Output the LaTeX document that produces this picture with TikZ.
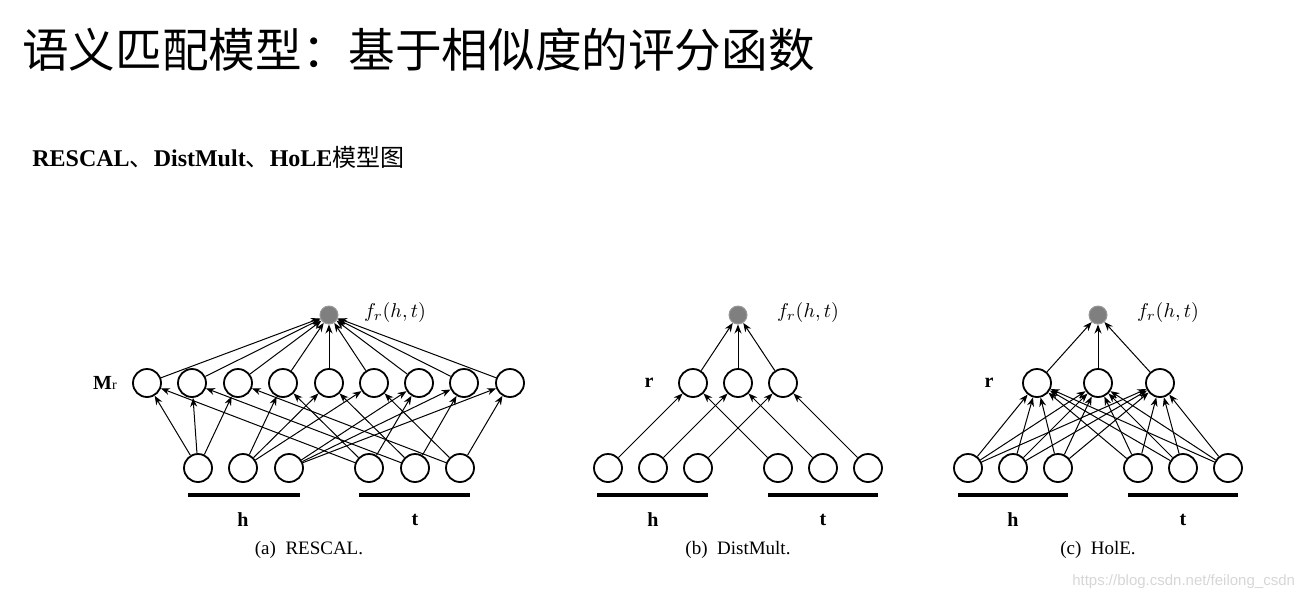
\documentclass[tikz,border=0pt]{standalone}
\usepackage{fontspec}
\setmainfont{Liberation Serif}
\setsansfont{Liberation Sans}
\newfontfamily\cjk{Noto Sans CJK SC}
\usetikzlibrary{arrows.meta}
\definecolor{scoregray}{HTML}{7F7F7F}
\definecolor{markgray}{HTML}{D6D6D6}

\begin{document}
\begin{tikzpicture}[x=0.5pt, y=-0.5pt,
  unit/.style={circle, draw, line width=0.9pt, minimum size=14pt, inner sep=0pt, fill=white},
  score/.style={circle, draw=gray!80, fill=scoregray, line width=0.5pt, minimum size=9pt, inner sep=0pt},
  arr/.style={-{Stealth[length=4.5pt, width=3.5pt]}, line width=0.5pt},
  bar/.style={line width=2pt},
  lbl/.style={font=\fontsize{10}{12}\selectfont\bfseries},
  subcap/.style={font=\fontsize{9.5}{11}\selectfont}]
  \useasboundingbox (0,0) rectangle (1311,601);

  % title and subtitle
  \node[anchor=west, inner sep=0pt, font=\cjk\fontsize{23.3}{28}\selectfont] (title) at (22,50)
    {语义匹配模型：基于相似度的评分函数};
  \node[anchor=west, inner sep=0pt, font=\fontsize{12}{14}\selectfont] (subtitle) at (32,157)
    {\textbf{RESCAL}{\cjk 、}\textbf{DistMult}{\cjk 、}\textbf{HoLE}{\cjk 模型图}};

  % (a) RESCAL
  \node[score] (atop) at (329,315) {};
  \node[anchor=west, font=\fontsize{10}{12}\selectfont] (afr) at (357,312) {$f_r(h,t)$};
  \foreach \x [count=\k] in {147,192,238,283,329,374,419,464,510}
    \node[unit] (am\k) at (\x,383) {};
  \foreach \x [count=\k] in {198,243,289}
    \node[unit] (ah\k) at (\x,468) {};
  \foreach \x [count=\k] in {369,415,460}
    \node[unit] (at\k) at (\x,468) {};
  \node[lbl] (amlbl) at (105,383) {M{\mdseries\fontsize{7}{8}\selectfont r}};
  \foreach \k in {1,...,9}
    \draw[arr] (am\k) -- (atop);
  \foreach \i in {1,2,3}
    \foreach \j in {1,2,3} {
      \pgfmathtruncatemacro\m{3*(\i-1)+\j}
      \pgfmathtruncatemacro\n{3*(\j-1)+\i}
      \draw[arr] (ah\i) -- (am\m);
      \draw[arr] (at\i) -- (am\n);
    }
  \draw[bar] (188,495) -- (300,495);
  \draw[bar] (359,495) -- (470,495);
  \node[lbl] (ahlbl) at (243,520) {h};
  \node[lbl] (atlbl) at (415,520) {t};
  \node[subcap] (acap) at (309,550) {(a)\enspace RESCAL.};

  % (b) DistMult
  \node[score] (btop) at (738,315) {};
  \node[anchor=west, font=\fontsize{10}{12}\selectfont] (bfr) at (770,312) {$f_r(h,t)$};
  \foreach \x [count=\k] in {693,738,783}
    \node[unit] (br\k) at (\x,383) {};
  \foreach \x [count=\k] in {608,653,698}
    \node[unit] (bh\k) at (\x,468) {};
  \foreach \x [count=\k] in {778,823,868}
    \node[unit] (bt\k) at (\x,468) {};
  \node[lbl] (brlbl) at (649,383) {r};
  \foreach \k in {1,2,3} {
    \draw[arr] (br\k) -- (btop);
    \draw[arr] (bh\k) -- (br\k);
    \draw[arr] (bt\k) -- (br\k);
  }
  \draw[bar] (597,495) -- (708,495);
  \draw[bar] (768,495) -- (878,495);
  \node[lbl] (bhlbl) at (653,520) {h};
  \node[lbl] (btlbl) at (823,520) {t};
  \node[subcap] (bcap) at (738,550) {(b)\enspace DistMult.};

  % (c) HolE
  \node[score] (ctop) at (1098,315) {};
  \node[anchor=west, font=\fontsize{10}{12}\selectfont] (cfr) at (1130,312) {$f_r(h,t)$};
  \foreach \x [count=\k] in {1037,1098,1160}
    \node[unit] (cr\k) at (\x,383) {};
  \foreach \x [count=\k] in {968,1013,1058}
    \node[unit] (ch\k) at (\x,468) {};
  \foreach \x [count=\k] in {1138,1183,1228}
    \node[unit] (ct\k) at (\x,468) {};
  \node[lbl] (crlbl) at (989,383) {r};
  \foreach \k in {1,2,3}
    \draw[arr] (cr\k) -- (ctop);
  \foreach \i in {1,2,3}
    \foreach \k in {1,2,3} {
      \draw[arr] (ch\i) -- (cr\k);
      \draw[arr] (ct\i) -- (cr\k);
    }
  \draw[bar] (958,495) -- (1068,495);
  \draw[bar] (1128,495) -- (1238,495);
  \node[lbl] (chlbl) at (1013,520) {h};
  \node[lbl] (ctlbl) at (1183,520) {t};
  \node[subcap] (ccap) at (1098,550) {(c)\enspace HolE.};

  % watermark
  \node[anchor=east, text=markgray, font=\sffamily\fontsize{7.5}{9}\selectfont] (mark) at (1302,582)
    {https://blog.csdn.net/feilong\_csdn};
\end{tikzpicture}
\end{document}
